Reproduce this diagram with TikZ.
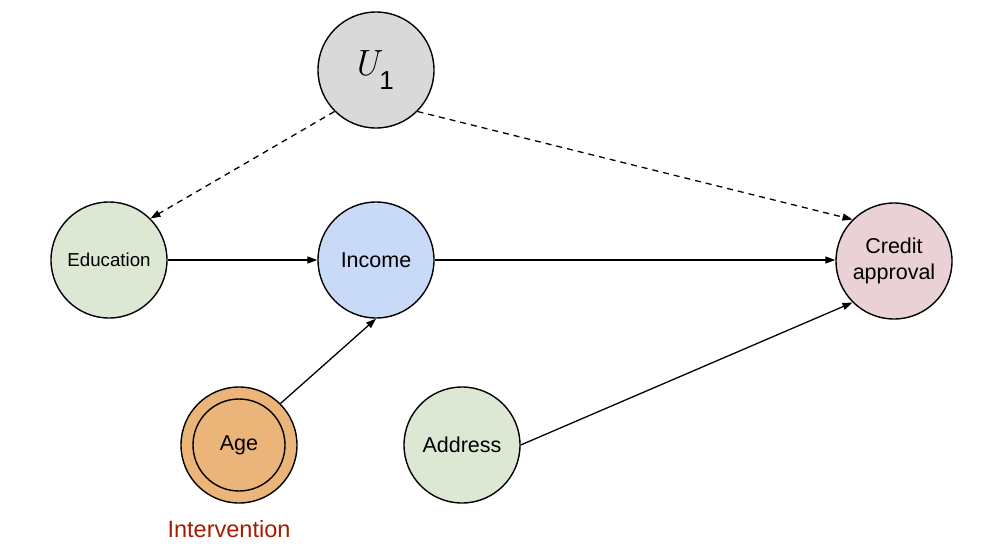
\documentclass[tikz,border=0pt]{standalone}
\usepackage{fontspec}
\setmainfont{Liberation Sans}
\newfontfamily\lmfont{Latin Modern Roman}
\usetikzlibrary{arrows.meta}
\definecolor{ugray}{HTML}{D9D9D9}
\definecolor{edgreen}{HTML}{DDE8D4}
\definecolor{incblue}{HTML}{C9DAF8}
\definecolor{credpink}{HTML}{EAD1D6}
\definecolor{ageorange}{HTML}{EBB479}
\definecolor{addgreen}{HTML}{DDE8D4}
\definecolor{intred}{HTML}{A61C00}
\tikzset{
  var/.style={circle, draw=black, line width=1.4pt, minimum size=116pt, inner sep=0pt, align=center,
    font=\fontsize{21.5}{26}\selectfont},
  arr/.style={-{Triangle[length=10pt,width=7pt]}, line width=1.3pt},
  darr/.style={arr, dash pattern=on 6pt off 5pt}
}
\begin{document}
\begin{tikzpicture}[x=1pt,y=-1pt]
\useasboundingbox (0,0) rectangle (1008,551);
\node[var, fill=ugray] (u1) at (376,70) {\hspace*{-6pt}{\lmfont\itshape\fontsize{36.5}{40}\selectfont U}\hspace{0.5pt}\raisebox{-14pt}{\fontsize{26}{28}\selectfont 1}};
\node[var, fill=edgreen, font=\fontsize{18.7}{22}\selectfont] (edu) at (109,260) {Education};
\node[var, fill=incblue] (inc) at (376,260) {Income};
\node[var, fill=credpink] (cred) at (894,261) {Credit\\approval};
\node[var, fill=ageorange] (age) at (239,445) {Age};
\draw[line width=1.4pt] (age.center) circle (46pt);
\node[var, fill=addgreen] (addr) at (462,445) {Address};
\node[text=intred, font=\fontsize{23.5}{26}\selectfont] (intv) at (229,529) {Intervention};
\draw[darr] (u1.south west) -- (edu.north east);
\draw[darr] (u1.south east) -- (cred.north west);
\draw[arr] (edu.east) -- (inc.west);
\draw[arr] (inc.east) -- (inc.east -| cred.west);
\draw[arr] (age.north east) -- (inc.south);
\draw[arr] (addr.east) -- (cred.south west);
\end{tikzpicture}
\end{document}
